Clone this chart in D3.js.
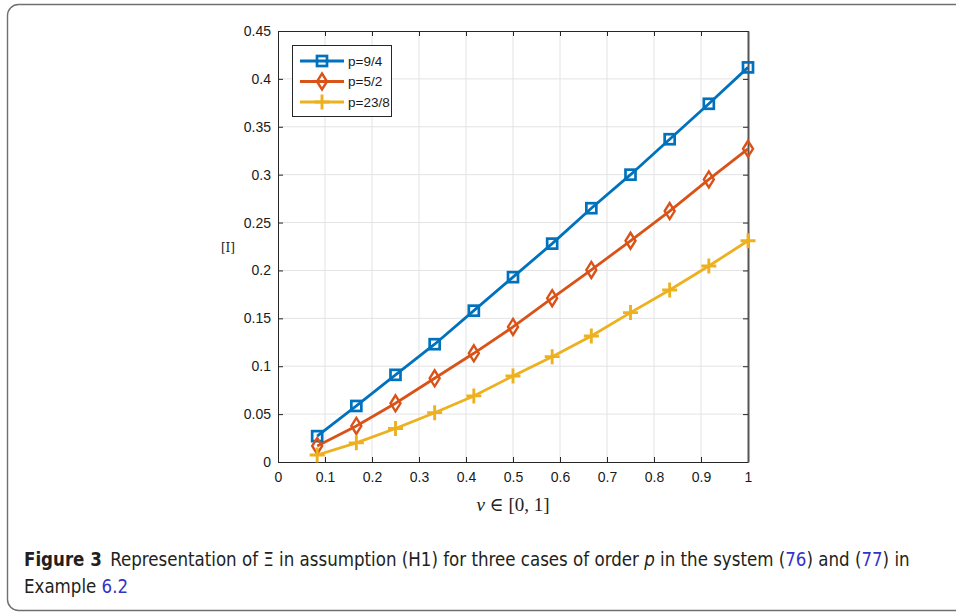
<!DOCTYPE html>
<html>
<head>
<meta charset="utf-8">
<title>Figure 3</title>
<script src="https://cdn.jsdelivr.net/npm/d3@7"></script>
<style>
  body { margin: 0; background: #fff; }
  svg { display: block; }
</style>
</head>
<body>
<script>
var W = 956, H = 613;

// data
var xs = [1/12, 2/12, 3/12, 4/12, 5/12, 6/12, 7/12, 8/12, 9/12, 10/12, 11/12, 1];
var p94 = [0.027, 0.0585, 0.091, 0.123, 0.158, 0.193, 0.228, 0.265, 0.300, 0.337, 0.374, 0.412];
var p52 = [0.0167, 0.0376, 0.0613, 0.0874, 0.1135, 0.141, 0.171, 0.2005, 0.231, 0.262, 0.295, 0.327];
var p238 = [0.0073, 0.020, 0.035, 0.0515, 0.069, 0.0898, 0.110, 0.1316, 0.156, 0.1796, 0.2046, 0.231];
var seriesNames = ["p=9/4", "p=5/2", "p=23/8"];
var xTicks = [0, 0.1, 0.2, 0.3, 0.4, 0.5, 0.6, 0.7, 0.8, 0.9, 1];
var yTicks = [0, 0.05, 0.1, 0.15, 0.2, 0.25, 0.3, 0.35, 0.4, 0.45];

var colors = ["#0072BD", "#D95319", "#EDB120"];
var markers = ["square", "diamond", "plus"];
var allSeries = [p94, p52, p238];

var svg = d3.select("body").append("svg")
  .attr("width", W).attr("height", H);

// rounded frame (right side runs off the page)
svg.append("rect")
  .attr("x", 7.5).attr("y", 4.5)
  .attr("width", 980).attr("height", 606)
  .attr("rx", 11).attr("ry", 11)
  .attr("fill", "none")
  .attr("stroke", "#707070")
  .attr("stroke-width", 1.4);

var pLeft = 278, pRight = 748, pTop = 31, pBottom = 462;
var x = d3.scaleLinear().domain([0, 1]).range([pLeft, pRight]);
var y = d3.scaleLinear().domain([0, 0.45]).range([pBottom, pTop]);

//// grid
var g = svg.append("g");
g.selectAll("line.gx").data(xTicks.slice(1, -1)).enter().append("line")
  .attr("x1", d => x(d)).attr("x2", d => x(d))
  .attr("y1", pTop).attr("y2", pBottom)
  .attr("stroke", "#e3e3e3").attr("stroke-width", 1);
g.selectAll("line.gy").data(yTicks.slice(1, -1)).enter().append("line")
  .attr("y1", d => y(d)).attr("y2", d => y(d))
  .attr("x1", pLeft).attr("x2", pRight)
  .attr("stroke", "#e3e3e3").attr("stroke-width", 1);

//// axes (ticks inward)
var fontAxis = "'Liberation Sans', Arial, sans-serif";
var xAxis = svg.append("g").attr("transform", "translate(0," + pBottom + ")")
  .call(d3.axisBottom(x).tickValues(xTicks).tickSizeInner(-5).tickSizeOuter(0).tickPadding(10)
    .tickFormat(d3.format("~g")));
var xTop = svg.append("g").attr("transform", "translate(0," + pTop + ")")
  .call(d3.axisTop(x).tickValues(xTicks).tickSizeInner(-5).tickSizeOuter(0).tickFormat(""));
var yAxis = svg.append("g").attr("transform", "translate(" + pLeft + ",0)")
  .call(d3.axisLeft(y).tickValues(yTicks).tickSizeInner(-5).tickSizeOuter(0).tickPadding(7)
    .tickFormat(d3.format("~g")));
var yRight = svg.append("g").attr("transform", "translate(" + pRight + ",0)")
  .call(d3.axisRight(y).tickValues(yTicks).tickSizeInner(-5).tickSizeOuter(0).tickFormat(""));

[xAxis, xTop, yAxis, yRight].forEach(function(a) {
  a.attr("font-family", fontAxis).attr("font-size", 14);
  a.select(".domain").attr("stroke", "#262626").attr("stroke-width", 1);
  a.selectAll(".tick line").attr("stroke", "#262626");
  a.selectAll("text").style("font-family", fontAxis).style("font-size", "14px").attr("fill", "#1a1a1a");
});
yRight.select(".domain").attr("stroke", "#555").attr("stroke-width", 2);

//// lines
var line = d3.line().x((d, i) => x(xs[i])).y(d => y(d));
allSeries.forEach(function(s, k) {
  svg.append("path").datum(s)
    .attr("d", line)
    .attr("fill", "none")
    .attr("stroke", colors[k])
    .attr("stroke-width", 2.8);
});

function drawMarker(sel, type, color) {
  if (type === "square") {
    sel.append("rect").attr("x", -5).attr("y", -5).attr("width", 10).attr("height", 10)
      .attr("fill", "none").attr("stroke", color).attr("stroke-width", 2.7);
  } else if (type === "diamond") {
    sel.append("path").attr("d", "M0,-8L5,0L0,8L-5,0Z")
      .attr("fill", "none").attr("stroke", color).attr("stroke-width", 2.4);
  } else {
    sel.append("path").attr("d", "M-7.5,0H7.5M0,-7.5V7.5")
      .attr("fill", "none").attr("stroke", color).attr("stroke-width", 2.9);
  }
}

allSeries.forEach(function(s, k) {
  svg.selectAll("g.m" + k).data(s).enter().append("g")
    .attr("class", "m" + k)
    .attr("transform", (d, i) => "translate(" + x(xs[i]) + "," + y(d) + ")")
    .each(function() { drawMarker(d3.select(this), markers[k], colors[k]); });
});

//// legend
var lg = svg.append("g").attr("transform", "translate(292,45)");
lg.append("rect").attr("x", 0.5).attr("y", 0.5).attr("width", 99).attr("height", 71)
  .attr("fill", "#fff").attr("stroke", "#262626").attr("stroke-width", 1);
seriesNames.forEach(function(n, k) {
  var yy = 16 + k * 20.5;
  lg.append("line").attr("x1", 8).attr("x2", 52).attr("y1", yy).attr("y2", yy)
    .attr("stroke", colors[k]).attr("stroke-width", 2.8);
  drawMarker(lg.append("g").attr("transform", "translate(30," + yy + ")"), markers[k], colors[k]);
  lg.append("text").attr("x", 56).attr("y", yy + 4.5).text(n)
    .style("font-family", fontAxis).style("font-size", "13.5px").attr("fill", "#1a1a1a");
});

//// axis labels
svg.append("text").attr("x", 228).attr("y", 252).attr("text-anchor", "middle")
  .attr("font-family", "'DejaVu Serif', 'Liberation Serif', serif").attr("font-size", "12px")
  .attr("fill", "#222").text("[I]");

var xl = svg.append("text").attr("x", 513).attr("y", 511).attr("text-anchor", "middle")
  .attr("font-family", "'Liberation Serif', 'DejaVu Serif', serif").attr("font-size", "19px")
  .attr("fill", "#222");
xl.append("tspan").attr("font-style", "italic").text("v");
xl.append("tspan").text(" \u2208 [0, 1]");

//// caption (condensed by a horizontal scale so line 1 spans x 24..910)
var capFont = "'DejaVu Sans Condensed', 'Open Sans', sans-serif";
var c1 = svg.append("text")
  .attr("font-family", capFont).attr("font-size", "19.5px").attr("fill", "#231f20");
c1.append("tspan").attr("font-weight", "bold").text("Figure 3");
c1.append("tspan").text("\u2002Representation of \u039E in assumption (H1) for three cases of order ");
c1.append("tspan").attr("font-style", "italic").text("p");
c1.append("tspan").text(" in the system (");
c1.append("tspan").attr("fill", "#3333cc").text("76");
c1.append("tspan").text(") and (");
c1.append("tspan").attr("fill", "#3333cc").text("77");
c1.append("tspan").text(") in");
var sx = 886 / c1.node().getComputedTextLength();
c1.attr("transform", "translate(24,566) scale(" + sx + ",1)");

var c2 = svg.append("text")
  .attr("font-family", capFont).attr("font-size", "19.5px").attr("fill", "#231f20")
  .attr("transform", "translate(24,593) scale(" + sx + ",1)");
c2.append("tspan").text("Example ");
c2.append("tspan").attr("fill", "#3333cc").text("6.2");
</script>
</body>
</html>
